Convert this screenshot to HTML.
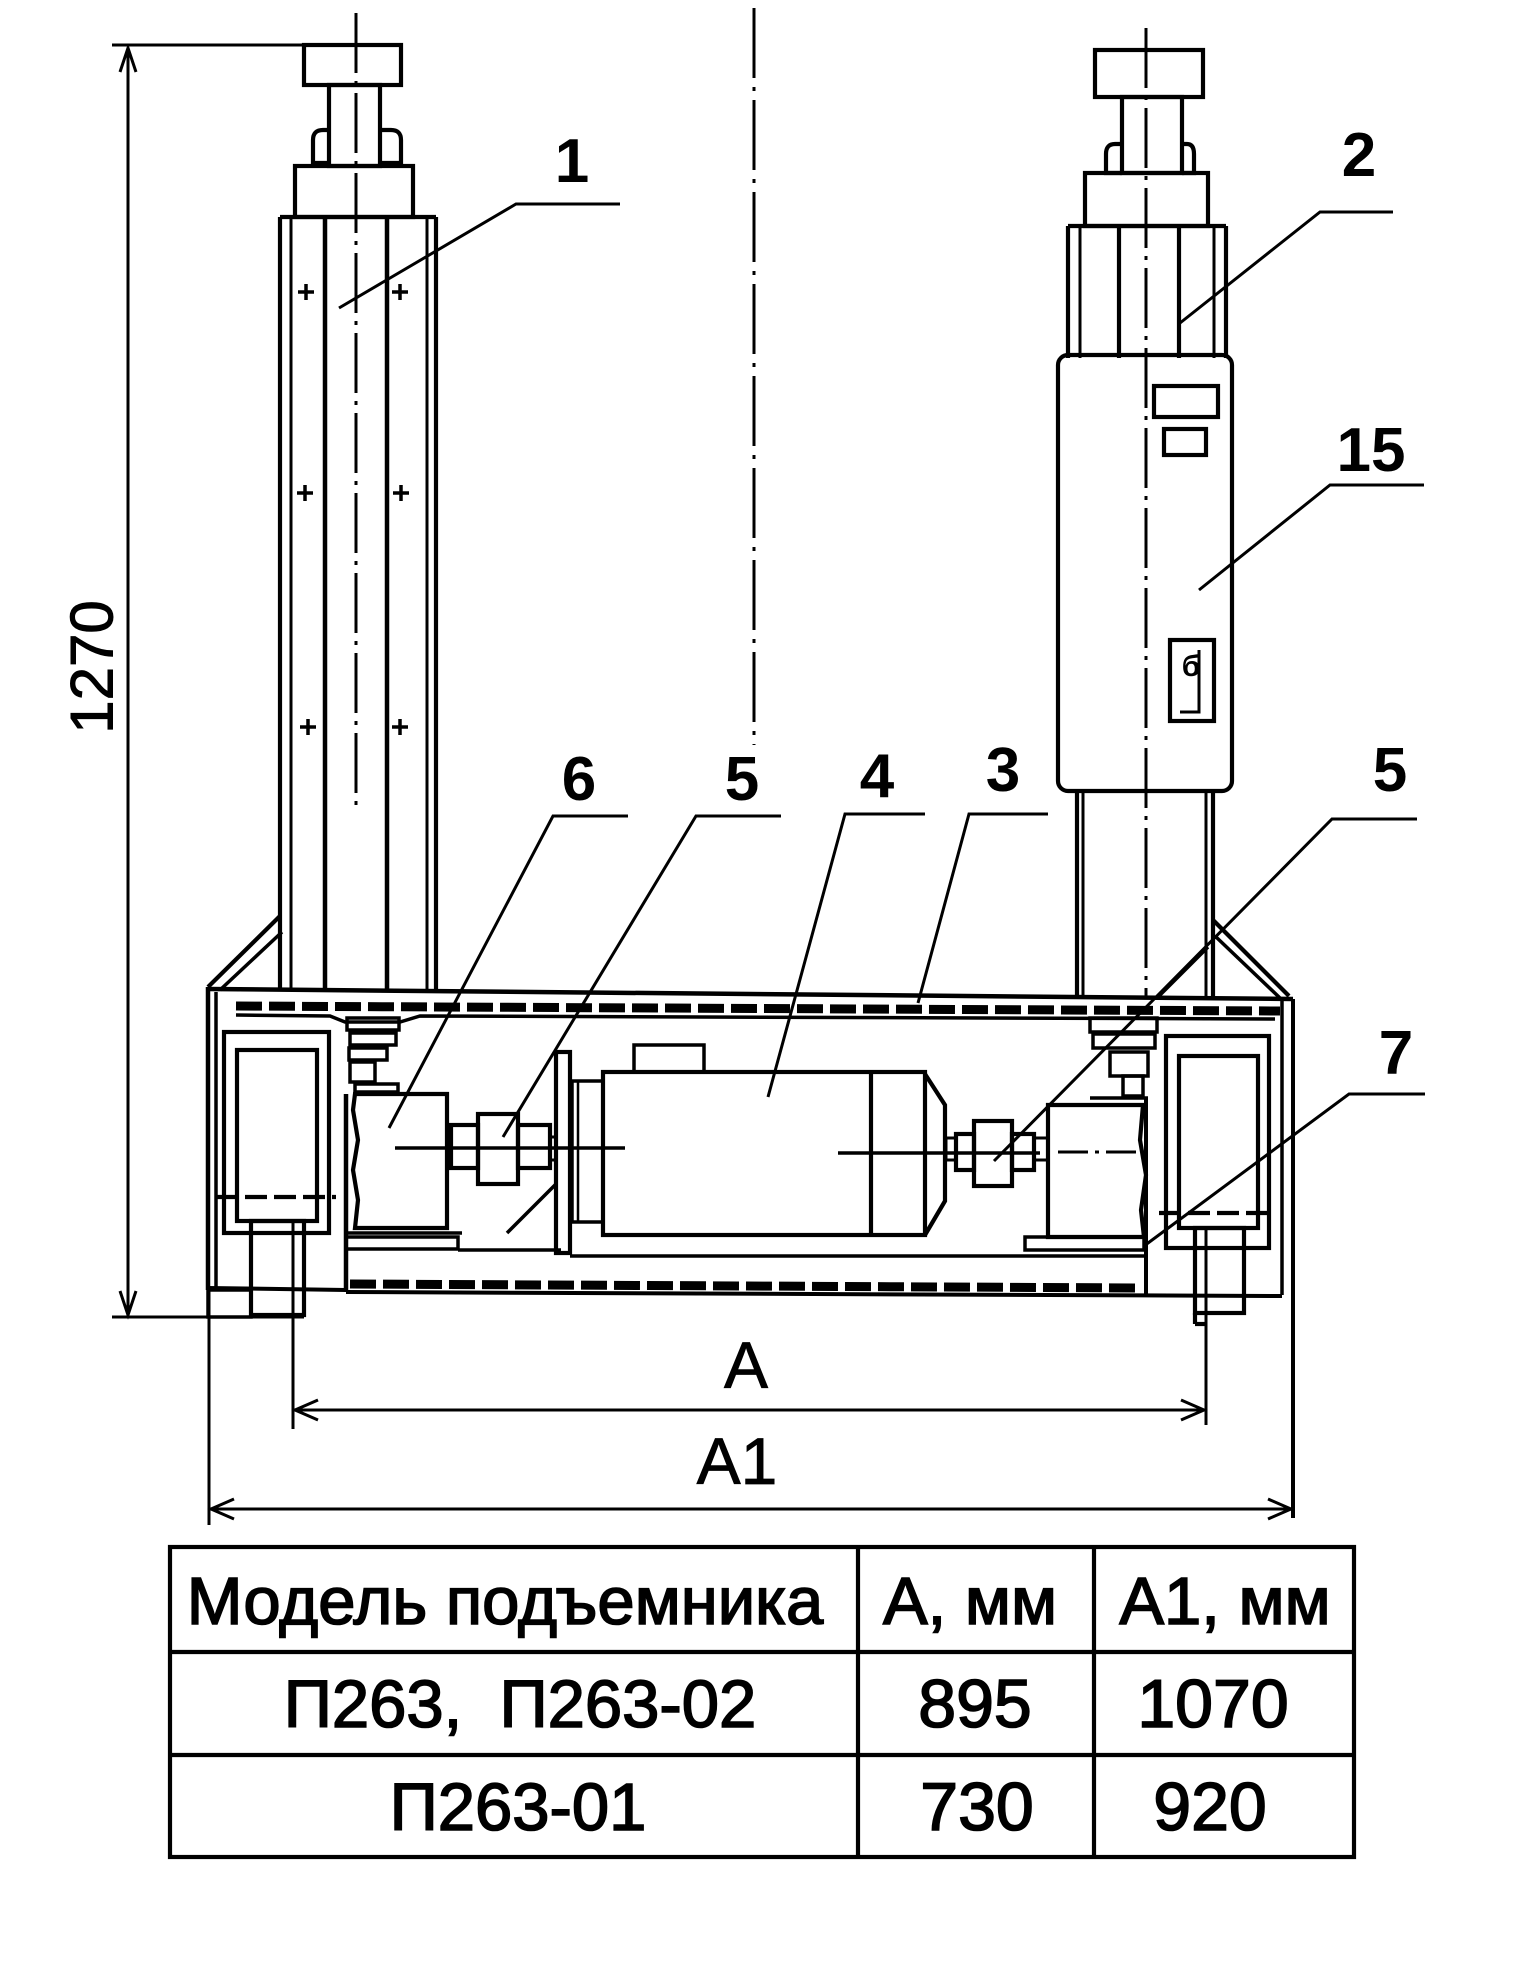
<!DOCTYPE html>
<html><head><meta charset="utf-8"><style>
html,body{margin:0;padding:0;background:#fff;}
svg{display:block;}
text{font-family:"Liberation Sans","DejaVu Sans",sans-serif;fill:#000;}
</style></head><body>
<svg width="1518" height="1968" viewBox="0 0 1518 1968" xmlns="http://www.w3.org/2000/svg">
<rect width="1518" height="1968" fill="#fff"/>
<g stroke="#000" fill="none" stroke-width="4.2">
<!-- centerlines -->
<line x1="356" y1="13" x2="356" y2="810" stroke-width="3" stroke-dasharray="60 8 4 8"/>
<line x1="754" y1="8" x2="754" y2="745" stroke-width="3" stroke-dasharray="70 9 4 9"/>
<line x1="1146" y1="28" x2="1146" y2="998" stroke-width="3" stroke-dasharray="60 8 4 8"/>

<!-- LEFT COLUMN -->
<line x1="112" y1="45" x2="402" y2="45" stroke-width="3"/>
<rect x="304" y="45" width="97" height="40"/>
<rect x="329" y="85" width="51" height="81"/>
<path d="M329,163 L313,163 L313,140 Q313,130 323,130 L329,130"/>
<path d="M380,163 L401,163 L401,140 Q401,130 391,130 L380,130"/>
<rect x="295" y="166" width="118" height="51"/>
<line x1="280" y1="217" x2="436" y2="217"/>
<line x1="280" y1="217" x2="280" y2="989"/>
<line x1="291" y1="217" x2="291" y2="989" stroke-width="3"/>
<line x1="325" y1="217" x2="325" y2="989" stroke-width="4.5"/>
<line x1="387" y1="217" x2="387" y2="989" stroke-width="4.5"/>
<line x1="427" y1="217" x2="427" y2="989" stroke-width="3"/>
<line x1="436" y1="217" x2="436" y2="989"/>
<g stroke-width="3.5">
<path d="M298,292h16M306,284v16M392,292h16M400,284v16"/>
<path d="M297,493h16M305,485v16M393,493h16M401,485v16"/>
<path d="M300,727h16M308,719v16M392,727h16M400,719v16"/>
</g>

<!-- RIGHT COLUMN -->
<rect x="1095" y="50" width="108" height="47"/>
<rect x="1122" y="97" width="60" height="76"/>
<path d="M1122,173 L1106,173 L1106,154 Q1106,144 1115,144 L1122,144"/>
<path d="M1182,173 L1194,173 L1194,154 Q1194,144 1187,144 L1182,144"/>
<rect x="1085" y="173" width="123" height="53"/>
<line x1="1068" y1="226" x2="1226" y2="226"/>
<line x1="1068" y1="226" x2="1068" y2="358"/>
<line x1="1080" y1="226" x2="1080" y2="358" stroke-width="3"/>
<line x1="1119" y1="226" x2="1119" y2="358"/>
<line x1="1179" y1="226" x2="1179" y2="358"/>
<line x1="1214" y1="226" x2="1214" y2="358" stroke-width="3"/>
<line x1="1226" y1="226" x2="1226" y2="358"/>
<rect x="1058" y="355" width="174" height="436" rx="10"/>
<rect x="1154" y="386" width="64" height="31"/>
<rect x="1164" y="429" width="42" height="26"/>
<rect x="1170" y="640" width="44" height="81"/>
<path d="M1199,650 L1199,712 L1180,712" stroke-width="3"/>
<line x1="1077" y1="791" x2="1077" y2="998"/>
<line x1="1083" y1="791" x2="1083" y2="998" stroke-width="3"/>
<line x1="1206" y1="791" x2="1206" y2="998" stroke-width="3"/>
<line x1="1213" y1="791" x2="1213" y2="998"/>

<!-- FRAME -->
<line x1="208" y1="989" x2="1293" y2="999" stroke-width="4.5"/>
<line x1="236" y1="1006" x2="1280" y2="1011" stroke-width="9" stroke-dasharray="26 7"/>
<path d="M236,1015 L330,1016 L345,1022 L400,1022 L420,1016 L1275,1019" stroke-width="3.5"/>
<line x1="208" y1="987" x2="208" y2="1290" stroke-width="4.5"/>
<line x1="216" y1="992" x2="216" y2="1288" stroke-width="3.5"/>
<line x1="1293" y1="999" x2="1293" y2="1518" stroke-width="4"/>
<line x1="1282" y1="1001" x2="1282" y2="1295" stroke-width="3.5"/>
<!-- braces -->
<line x1="208" y1="987" x2="280" y2="916"/>
<line x1="220" y1="990" x2="282" y2="932" stroke-width="3.5"/>
<line x1="1213" y1="920" x2="1289" y2="996"/>
<line x1="1215" y1="936" x2="1280" y2="998" stroke-width="3.5"/>
<line x1="1157" y1="998" x2="1208" y2="947" stroke-width="3.5"/>
<!-- bottom -->
<line x1="350" y1="1284" x2="1140" y2="1288" stroke-width="9" stroke-dasharray="26 7"/>
<line x1="346" y1="1292" x2="1282" y2="1296" stroke-width="4"/>
<line x1="208" y1="1288" x2="346" y2="1290" stroke-width="4"/>
<path d="M346,1094 L346,1292" stroke-width="4.5"/>
<path d="M1146,1098 L1146,1296" stroke-width="4"/>

<!-- left wheel -->
<rect x="224" y="1032" width="105" height="201"/>
<rect x="237" y="1050" width="80" height="171"/>
<line x1="216" y1="1197" x2="336" y2="1197" stroke-dasharray="22 7"/>
<rect x="251" y="1221" width="53" height="94"/>
<line x1="293" y1="1221" x2="293" y2="1429" stroke-width="3"/>
<rect x="208" y="1290" width="43" height="27" stroke-width="3.5"/>
<!-- right wheel -->
<rect x="1166" y="1036" width="103" height="212"/>
<rect x="1179" y="1056" width="79" height="172"/>
<line x1="1159" y1="1213" x2="1273" y2="1213" stroke-dasharray="22 7"/>
<rect x="1195" y="1228" width="49" height="85"/>
<line x1="1206" y1="1228" x2="1206" y2="1425" stroke-width="3"/>
<line x1="1195" y1="1313" x2="1195" y2="1324"/>
<line x1="1195" y1="1324" x2="1206" y2="1324"/>

<!-- left bearing stack -->
<rect x="347" y="1018" width="52" height="12" stroke-width="3.5"/>
<rect x="350" y="1033" width="46" height="12" stroke-width="3.5"/>
<rect x="349" y="1048" width="38" height="12" stroke-width="3.5"/>
<rect x="350" y="1062" width="25" height="20" stroke-width="3.5"/>
<rect x="355" y="1084" width="43" height="8" stroke-width="3.5"/>
<!-- reducer 6 -->
<path d="M355,1094 L447,1094 L447,1228 L355,1228 L358,1200 L353,1170 L358,1140 L353,1110 Z"/>
<line x1="346" y1="1233" x2="462" y2="1233" stroke-width="3.5"/>
<rect x="346" y="1237" width="112" height="12" stroke-width="3.5"/>
<line x1="458" y1="1250" x2="561" y2="1250" stroke-width="3.5"/>
<!-- left coupling -->
<rect x="451" y="1125" width="27" height="43"/>
<rect x="478" y="1114" width="40" height="70"/>
<rect x="518" y="1125" width="32" height="43"/>
<rect x="550" y="1137" width="6" height="23" stroke-width="3"/>
<line x1="395" y1="1148" x2="625" y2="1148" stroke-width="3.5"/>
<!-- motor mount -->
<rect x="556" y="1052" width="14" height="201"/>
<line x1="507" y1="1233" x2="556" y2="1184" stroke-width="3.5"/>
<rect x="572" y="1081" width="31" height="141" stroke-width="3.5"/>
<line x1="578" y1="1081" x2="578" y2="1222" stroke-width="2.5"/>
<!-- motor -->
<rect x="603" y="1072" width="322" height="163"/>
<line x1="871" y1="1074" x2="871" y2="1235"/>
<path d="M925,1074 L945,1105 L945,1201 L925,1235"/>
<rect x="634" y="1045" width="70" height="27" stroke-width="3.5"/>
<line x1="570" y1="1256" x2="1144" y2="1256" stroke-width="3.5"/>
<line x1="838" y1="1153" x2="950" y2="1153" stroke-width="3.5"/>
<!-- right coupling -->
<rect x="946" y="1138" width="10" height="22" stroke-width="3"/>
<rect x="956" y="1134" width="18" height="36"/>
<rect x="974" y="1121" width="38" height="65"/>
<rect x="1012" y="1134" width="22" height="36"/>
<rect x="1034" y="1138" width="14" height="22" stroke-width="3"/>
<line x1="950" y1="1153" x2="1040" y2="1153" stroke-width="3.5"/>
<!-- right reducer -->
<path d="M1048,1105 L1143,1105 L1140,1140 L1146,1175 L1141,1210 L1144,1237 L1048,1237 Z"/>
<line x1="1058" y1="1152" x2="1140" y2="1152" stroke-width="3" stroke-dasharray="30 7 4 7"/>
<rect x="1025" y="1237" width="119" height="13" stroke-width="3.5"/>
<rect x="1090" y="1018" width="67" height="14" stroke-width="3.5"/>
<rect x="1093" y="1034" width="62" height="14" stroke-width="3.5"/>
<rect x="1110" y="1052" width="38" height="24" stroke-width="3.5"/>
<rect x="1123" y="1076" width="20" height="20" stroke-width="3.5"/>
<line x1="1090" y1="1098" x2="1148" y2="1098" stroke-width="3.5"/>

<!-- leaders -->
<g stroke-width="3">
<polyline points="620,204 516,204 339,308"/>
<polyline points="1393,212 1320,212 1180,323"/>
<polyline points="1424,485 1330,485 1199,590"/>
<polyline points="628,816 553,816 389,1128"/>
<polyline points="781,816 696,816 503,1137"/>
<polyline points="925,814 845,814 768,1097"/>
<polyline points="1048,814 969,814 918,1003"/>
<polyline points="1417,819 1332,819 994,1161"/>
<polyline points="1425,1094 1349,1094 1144,1246"/>
</g>

<!-- dimensions -->
<g stroke-width="3">
<line x1="128" y1="48" x2="128" y2="1315"/>
<polyline points="120,72 128,48 136,72"/>
<polyline points="120,1291 128,1315 136,1291"/>
<line x1="112" y1="1317" x2="304" y2="1317"/>
<line x1="295" y1="1410" x2="1204" y2="1410"/>
<polyline points="318,1400 295,1410 318,1420"/>
<polyline points="1181,1400 1204,1410 1181,1420"/>
<line x1="209" y1="1290" x2="209" y2="1525"/>
<line x1="211" y1="1509" x2="1291" y2="1509"/>
<polyline points="234,1499 211,1509 234,1519"/>
<polyline points="1268,1499 1291,1509 1268,1519"/>
</g>

<!-- table -->
<rect x="170" y="1547" width="1184" height="310"/>
<line x1="858" y1="1547" x2="858" y2="1857"/>
<line x1="1094" y1="1547" x2="1094" y2="1857"/>
<line x1="170" y1="1652" x2="1354" y2="1652"/>
<line x1="170" y1="1755" x2="1354" y2="1755"/>
</g>

<!-- labels -->
<g font-size="62" font-weight="bold" text-anchor="middle">
<text x="572" y="182">1</text>
<text x="1359" y="176">2</text>
<text x="1371" y="471">15</text>
<text x="579" y="800">6</text>
<text x="742" y="800">5</text>
<text x="877" y="797">4</text>
<text x="1003" y="791">3</text>
<text x="1390" y="791">5</text>
<text x="1396" y="1074">7</text>
</g>
<text x="1191" y="676" font-size="30" font-weight="bold" text-anchor="middle">б</text>
<text transform="translate(92,667) rotate(-90)" font-size="60" text-anchor="middle" dominant-baseline="central" stroke="#000" stroke-width="1">1270</text>
<text x="746" y="1388" font-size="66" text-anchor="middle" stroke="#000" stroke-width="0.8">A</text>
<text x="737" y="1484" font-size="66" text-anchor="middle" stroke="#000" stroke-width="0.8">A1</text>

<g font-size="67" text-anchor="middle" stroke="#000" stroke-width="1.6">
<text x="505" y="1624">Модель подъемника</text>
<text x="970" y="1624">А, мм</text>
<text x="1225" y="1624">А1, мм</text>
<text x="520" y="1727">П263,&#160; П263-02</text>
<text x="975" y="1727" font-size="68">895</text>
<text x="1213" y="1727" font-size="68">1070</text>
<text x="518" y="1830">П263-01</text>
<text x="977" y="1830" font-size="68">730</text>
<text x="1210" y="1830" font-size="68">920</text>
</g>
</svg>
</body></html>
